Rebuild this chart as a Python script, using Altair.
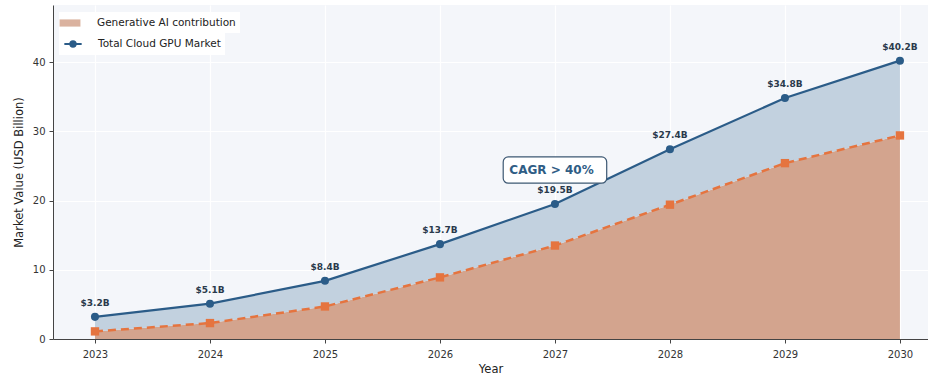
import altair as alt
import pandas as pd

years = [2023, 2024, 2025, 2026, 2027, 2028, 2029, 2030]
total = [3.2, 5.1, 8.4, 13.7, 19.5, 27.4, 34.8, 40.2]
genai = [1.1, 2.3, 4.7, 8.9, 13.5, 19.4, 25.4, 29.4]
labels = ["$3.2B", "$5.1B", "$8.4B", "$13.7B", "$19.5B", "$27.4B", "$34.8B", "$40.2B"]

cagr_text = ["CAGR > 40%"]
cagr_x = [2026.97]
cagr_y = [24.4]
cagr_box_x = [2026.55]
cagr_box_x2 = [2027.45]
cagr_box_y = [22.5]
cagr_box_y2 = [26.3]

df = pd.DataFrame({
    "year": years,
    "total": total,
    "genai": genai,
    "label": labels,
    "s_gen": ["Generative AI contribution"] * len(years),
    "s_tot": ["Total Cloud GPU Market"] * len(years),
})
ann = pd.DataFrame({"t": cagr_text, "x": cagr_x, "y": cagr_y,
                    "bx": cagr_box_x, "bx2": cagr_box_x2, "by": cagr_box_y, "by2": cagr_box_y2})

BLUE = "#2b5c88"
ORANGE = "#e5743f"
ORANGE_FILL = "#d3a48e"
BLUE_FILL = "#c2d1df"

xs = alt.Scale(domain=[2022.635, 2030.244], nice=False, zero=False)
ys = alt.Scale(domain=[0, 48.24], nice=False)

xax = alt.Axis(title="Year", values=years, format="d", grid=True, gridColor="#ffffff",
               gridWidth=1.2, domainColor="#444", tickColor="#444", tickSize=4,
               labelFontSize=10, labelColor="#333", titleFontSize=11.5, titleFontWeight="normal",
               titleColor="#222", labelPadding=6, titlePadding=4, labelFont="DejaVu Sans", titleFont="DejaVu Sans")
yax = alt.Axis(title="Market Value (USD Billion)", values=[0, 10, 20, 30, 40], grid=True,
               gridColor="#ffffff", gridWidth=1.2, domainColor="#444", tickColor="#444", tickSize=4,
               labelFontSize=10, labelColor="#333", titleFontSize=11.5, titleFontWeight="normal",
               titleColor="#222", labelPadding=4, titlePadding=8, labelFont="DejaVu Sans", titleFont="DejaVu Sans")

base = alt.Chart(df)
X = alt.X("year:Q", scale=xs, axis=xax)

area_gen = base.mark_area(opacity=1).encode(
    x=X,
    y=alt.Y("genai:Q", scale=ys, axis=yax),
    y2=alt.datum(0),
    fill=alt.Fill("s_gen:N", scale=alt.Scale(range=[ORANGE_FILL]),
                  legend=alt.Legend(title=None, orient="none", legendX=6, legendY=7,
                                    symbolType="M-1.6,-0.55H1.6V0.55H-1.6Z", symbolSize=170,
                                    labelFontSize=10.5, labelFont="DejaVu Sans", labelColor="#222",
                                    symbolOpacity=0.85, symbolFillColor="#e9a886", symbolStrokeWidth=0,
                                    fillColor="#ffffff", padding=4, labelOffset=20)),
)
area_tot = base.mark_area(color=BLUE_FILL, opacity=1).encode(
    x=X, y=alt.Y("total:Q", scale=ys), y2="genai:Q")

line_gen = base.mark_line(color=ORANGE, strokeWidth=2.5, strokeDash=[8, 5]).encode(
    x=X, y=alt.Y("genai:Q", scale=ys))
pts_gen = base.mark_point(shape="square", filled=True, color=ORANGE, size=70, opacity=1).encode(
    x=X, y=alt.Y("genai:Q", scale=ys))

line_tot = base.mark_line(strokeWidth=2.2).encode(
    x=X, y=alt.Y("total:Q", scale=ys),
    stroke=alt.Stroke("s_tot:N", scale=alt.Scale(range=[BLUE]),
                      legend=alt.Legend(title=None, orient="none", legendX=6, legendY=25,
                                        symbolType="M-1,0H1M0.3,0A0.3,0.3 0 1,1 -0.3,0A0.3,0.3 0 1,1 0.3,0",
                                        symbolSize=300, symbolStrokeWidth=2.2, symbolFillColor=BLUE,
                                        labelFontSize=10.5, labelFont="DejaVu Sans", labelColor="#222",
                                        fillColor="#ffffff", padding=4, labelOffset=15)),
)
pts_tot = base.mark_point(shape="circle", filled=True, color=BLUE, size=65, opacity=1).encode(
    x=X, y=alt.Y("total:Q", scale=ys))

txt = base.mark_text(fontSize=9, fontWeight="bold", color="#2a3a4c", dy=-9, baseline="bottom",
                     font="DejaVu Sans").encode(
    x=X, y=alt.Y("total:Q", scale=ys), text="label:N")

box = alt.Chart(ann).mark_rect(fill="#ffffff", stroke="#3d5873", strokeWidth=1.2, cornerRadius=5).encode(
    x=alt.X("bx:Q", scale=xs), x2="bx2:Q", y=alt.Y("by:Q", scale=ys), y2="by2:Q")
cagr = alt.Chart(ann).mark_text(fontSize=12, fontWeight="bold", color="#2f5d85",
                                font="DejaVu Sans").encode(
    x=alt.X("x:Q", scale=xs), y=alt.Y("y:Q", scale=ys), text="t:N")

chart = alt.layer(area_gen, area_tot, line_gen, pts_gen, line_tot, pts_tot, txt, box, cagr).properties(
    width=875, height=334,
    autosize=alt.AutoSizeParams(type="none"),
    padding={"left": 53, "top": 5, "right": 0, "bottom": 38},
    background="#ffffff",
).configure_view(fill="#f4f6fa", stroke=None).resolve_scale(fill="independent", stroke="independent")

chart.save("out.html", embed_options={"renderer": "svg", "actions": False})
